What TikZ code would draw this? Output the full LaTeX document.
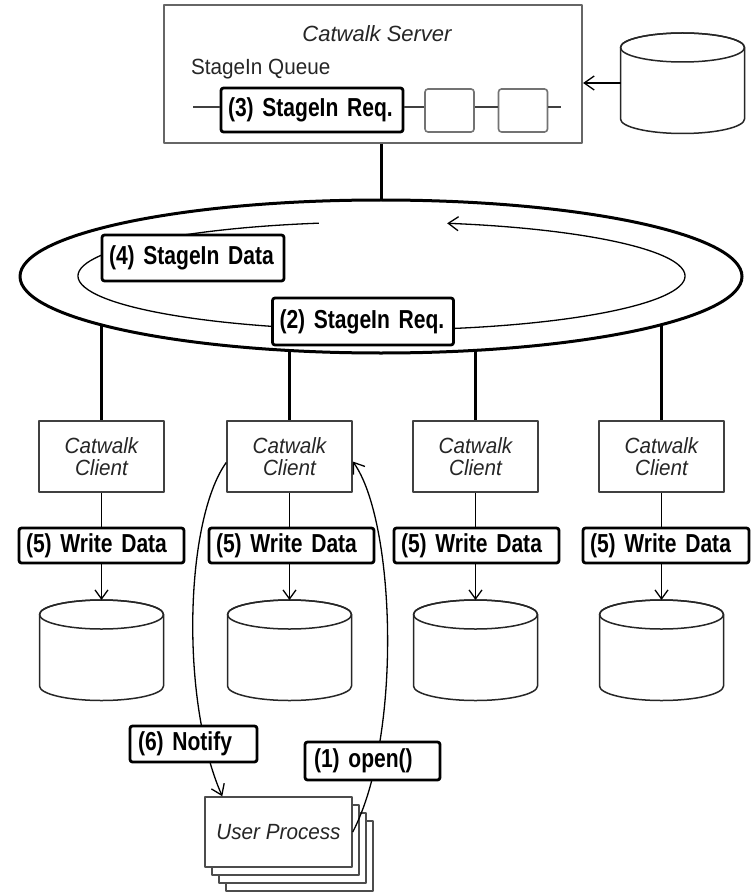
\documentclass[tikz,border=0pt]{standalone}
\usepackage{fontspec}
\setmainfont{Liberation Sans}
\newfontfamily\regfam{Liberation Sans}[FakeStretch=0.94]
\newfontfamily\lblfam{Liberation Sans}[FakeStretch=0.81]
\usetikzlibrary{arrows.meta,backgrounds,shapes.geometric}

\newcommand\txtfont{\regfam\fontsize{22}{22}\selectfont}
\newcommand\lblfont{\lblfam\fontsize{26}{28}\selectfont\bfseries}

\tikzset{
  thinline/.style={line width=1.3pt},
  thickline/.style={line width=3pt},
  lbl/.style={draw=black, line width=2.8pt, rounded corners=2.5pt, fill=white,
    font=\lblfont, inner xsep=7pt, inner ysep=0pt, align=left},
  srvbox/.style={draw=black!60, line width=2.2pt, fill=white, inner sep=0pt},
  qslot/.style={draw=black!55, line width=1.6pt, rounded corners=3pt, fill=white,
    minimum width=49pt, minimum height=43pt, inner sep=0pt},
  client/.style={draw=black!75, line width=1.5pt, fill=white, font=\txtfont\itshape,
    text=black!85, align=center, minimum width=125pt, minimum height=71pt, inner sep=0pt},
  userproc/.style={draw=black!70, line width=1.5pt, fill=white, font=\txtfont\itshape,
    text=black!85, minimum width=147pt, minimum height=70pt, inner sep=0pt},
  dbcyl/.pic={
    \draw[line width=1.5pt, draw=black!85, fill=white] (-62,-14.5) -- (-62,-86)
      arc[start angle=180, end angle=360, x radius=62, y radius=14.5]
      -- (62,-14.5)
      arc[start angle=0, end angle=180, x radius=62, y radius=14.5] -- cycle;
    \draw[line width=1.5pt, draw=black!85] (0,-14.5) ellipse[x radius=62, y radius=14.5];
    \coordinate (-top) at (0,0);
    \coordinate (-west) at (-62,-50);
  }
}

\begin{document}
\begin{tikzpicture}[x=1pt, y=1pt, line join=round,
  >={Straight Barb[length=10pt, width=14pt]}]
\useasboundingbox (0,0) rectangle (752,-893);

% --- server with its stage-in queue
\node[srvbox, minimum width=418pt, minimum height=138pt] (server) at (373,-74) {};
\node[anchor=base, font=\fontsize{22}{22}\selectfont\itshape, text=black!85, inner sep=0pt]
  (srvtitle) at (377,-42) {Catwalk Server};
\node[anchor=base west, font=\txtfont, text=black!85, inner sep=0pt] (qtitle)
  at (191,-75) {StageIn Queue};
\coordinate (qstart) at (193,-107);
\coordinate (qend) at (561,-107);
\node[lbl, text width=168pt, minimum height=44pt] (q3) at (312,-110) {(3) StageIn Req.};
\node[qslot] (s1) at (449.5,-110.5) {};
\node[qslot] (s2) at (523,-110.5) {};
\draw[thinline, black!75] (qstart) -- (qstart -| q3.west);
\draw[thinline, black!75] (q3.east |- qstart) -- (s1.west |- qstart);
\draw[thinline, black!75] (s1.east |- qstart) -- (s2.west |- qstart);
\draw[thinline, black!75] (s2.east |- qstart) -- (qend);

% --- server-side storage
\pic (db0) at (682.5,-33) {dbcyl};
\draw[thinline, ->] (db0-west) -- (db0-west -| server.east);

% --- ring network
\node[draw, ellipse, thickline, fill=white, minimum width=722pt, minimum height=153pt,
  inner sep=0pt] (ring) at (381,-276.5) {};
\coordinate (loopc) at (381.5,-276);
\draw[thinline, ->] (loopc) ++(101.9:303.5 and 54)
  arc[start angle=101.9, end angle=437.5, x radius=303.5, y radius=54];
\node[lbl, text width=168pt, minimum height=46pt] (q4) at (193,-258) {(4) StageIn Data};
\node[lbl, text width=167pt, minimum height=47pt] (q2) at (363,-321.5) {(2) StageIn Req.};

% --- clients
\node[client] (c1) at (101.5,-456.5) {Catwalk\\Client};
\node[client] (c2) at (289.5,-456.5) {Catwalk\\Client};
\node[client] (c3) at (475.5,-456.5) {Catwalk\\Client};
\node[client] (c4) at (661.5,-456.5) {Catwalk\\Client};

\begin{scope}[on background layer]
  \draw[thickline] (ring.center |- server.south) -- (ring.center);
  \foreach \c in {c1,c2,c3,c4}
    \draw[thickline] (\c.north) -- (\c.north |- ring.center);
\end{scope}

% --- local writes
\node[lbl, text width=151pt, minimum height=35pt] (w1) at (101.5,-545.5) {(5) Write Data};
\node[lbl, text width=151pt, minimum height=35pt] (w2) at (291.5,-545.5) {(5) Write Data};
\node[lbl, text width=151pt, minimum height=35pt] (w3) at (476.5,-545.5) {(5) Write Data};
\node[lbl, text width=152pt, minimum height=35pt] (w4) at (666,-545.5) {(5) Write Data};

\pic (d1) at (101.5,-600) {dbcyl};
\pic (d2) at (289.5,-600) {dbcyl};
\pic (d3) at (475.5,-600) {dbcyl};
\pic (d4) at (661.5,-600) {dbcyl};

\foreach \i in {1,2,3,4} {
  \draw[thinline] (c\i.south) -- (c\i.south |- w\i.north);
  \draw[thinline, ->, >={Straight Barb[length=9pt, width=13pt]}]
    (c\i.south |- w\i.south) -- (d\i-top);
}

% --- user processes
\node[userproc] (up3) at (299.5,-856) {};
\node[userproc] (up2) at (292.5,-848) {};
\node[userproc] (up1) at (285.5,-840) {};
\node[userproc] (up) at (278.5,-832) {User Process};

\draw[thinline, ->] ([yshift=-6pt]c2.west) .. controls (185,-520) and (180,-700)
  .. ([xshift=18pt]up.north west);
\draw[thinline, ->] (up.east) .. controls (403,-735) and (395,-520)
  .. ([yshift=-5pt]c2.east);

\node[lbl, text width=111pt, minimum height=36pt, inner xsep=8pt] (notify) at (193.5,-744) {(6) Notify};
\node[lbl, text width=117pt, minimum height=38pt, inner xsep=9pt] (open) at (372.5,-761) {(1) open()};
\end{tikzpicture}
\end{document}
